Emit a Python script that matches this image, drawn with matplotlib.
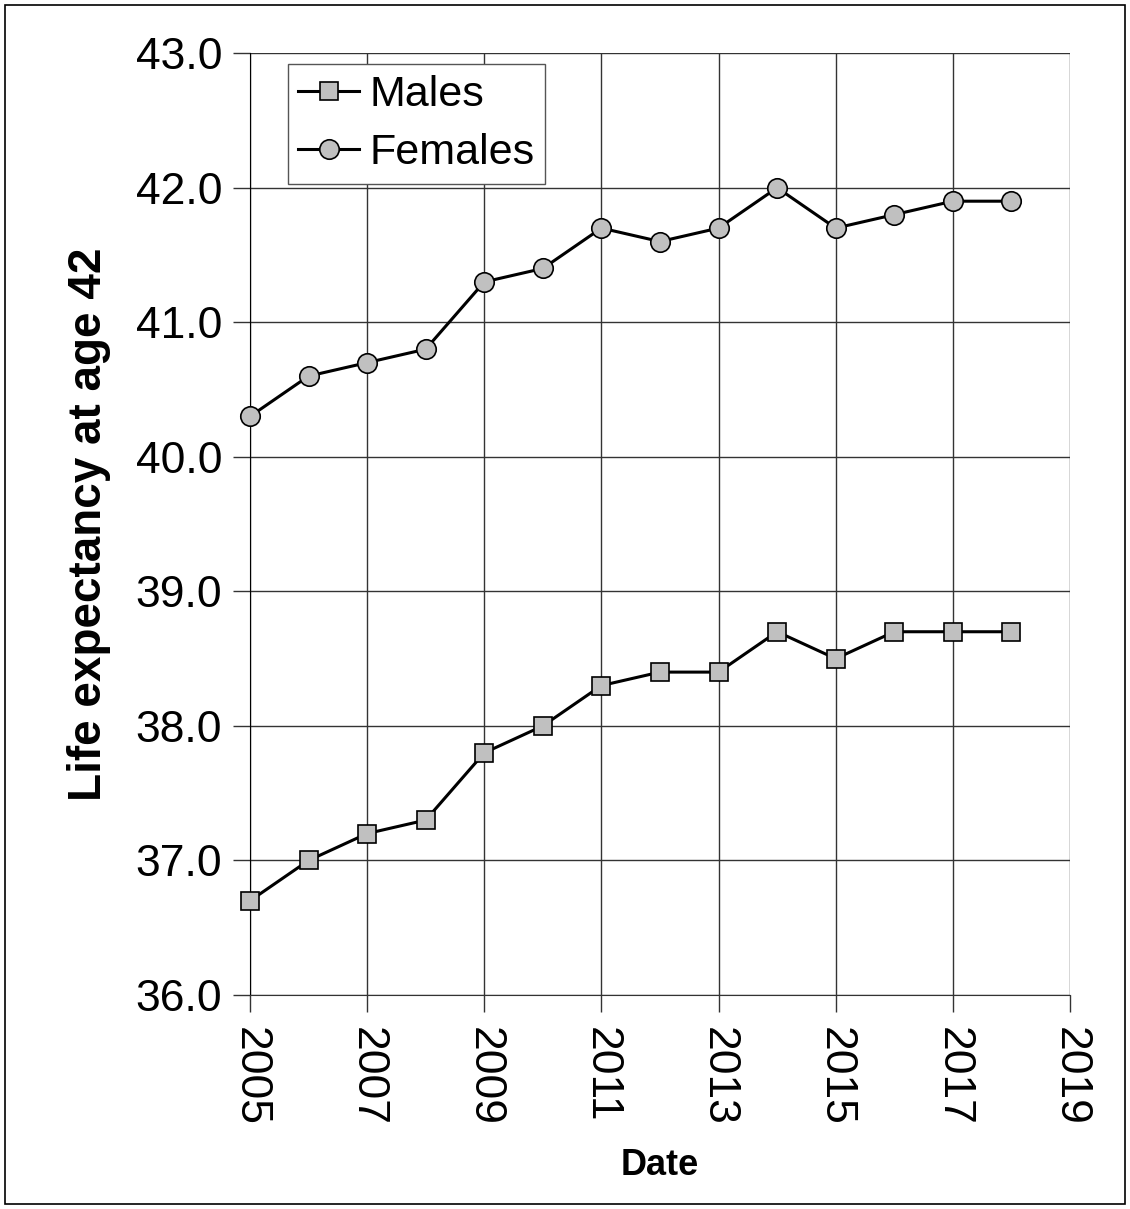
import matplotlib
matplotlib.use("Agg")
import matplotlib.pyplot as plt
from matplotlib.patches import Rectangle

plt.rcParams["font.family"] = ["Liberation Sans", "DejaVu Sans"]

years = [2005, 2006, 2007, 2008, 2009, 2010, 2011, 2012, 2013, 2014, 2015, 2016, 2017, 2018]
males = [36.7, 37.0, 37.2, 37.3, 37.8, 38.0, 38.3, 38.4, 38.4, 38.7, 38.5, 38.7, 38.7, 38.7]
females = [40.3, 40.6, 40.7, 40.8, 41.3, 41.4, 41.7, 41.6, 41.7, 42.0, 41.7, 41.8, 41.9, 41.9]
xticks = [2005, 2007, 2009, 2011, 2013, 2015, 2017, 2019]
yticks = [36.0, 37.0, 38.0, 39.0, 40.0, 41.0, 42.0, 43.0]

fig = plt.figure(figsize=(11.3, 12.09), dpi=100)
ax = fig.add_axes([0.2212, 0.177, 0.7257, 0.779])

ax.plot(years, males, color="black", lw=2.2, marker="s", ms=13,
        mfc="#c0c0c0", mec="black", mew=1.2, label="Males", zorder=3, clip_on=False)
ax.plot(years, females, color="black", lw=2.2, marker="o", ms=14,
        mfc="#c0c0c0", mec="black", mew=1.2, label="Females", zorder=3, clip_on=False)

ax.set_xlim(2005, 2019)
ax.set_ylim(36, 43)
ax.set_xticks(xticks)
ax.set_yticks(yticks)
ax.set_yticklabels([f"{v:.1f}" for v in yticks])
ax.tick_params(axis="both", labelsize=32, length=12, width=1, color="#333333", pad=8)
ax.tick_params(axis="x", labelrotation=270, pad=11)
ax.grid(True, color="#333333", lw=1)
ax.set_axisbelow(True)
for s in ["top", "right"]:
    ax.spines[s].set_visible(False)
ax.spines["left"].set_color("black")
ax.spines["bottom"].set_color("#333333")

ax.set_xlabel("Date", fontsize=26, fontweight="bold", labelpad=16)
ax.set_ylabel("Life expectancy at age 42", fontsize=33, fontweight="bold", labelpad=18)

leg = ax.legend(loc="upper left", bbox_to_anchor=(0.046, 0.988), fontsize=31,
                frameon=True, fancybox=False, edgecolor="#555555", framealpha=1,
                handlelength=1.4, handletextpad=0.25, borderpad=0.25, labelspacing=0.42,
                borderaxespad=0)
leg.get_frame().set_linewidth(1)

fig.patches.append(Rectangle((0.004, 0.004), 0.992, 0.992, transform=fig.transFigure,
                             fill=False, edgecolor="black", lw=1.2))

fig.savefig("out.png", dpi=100)
